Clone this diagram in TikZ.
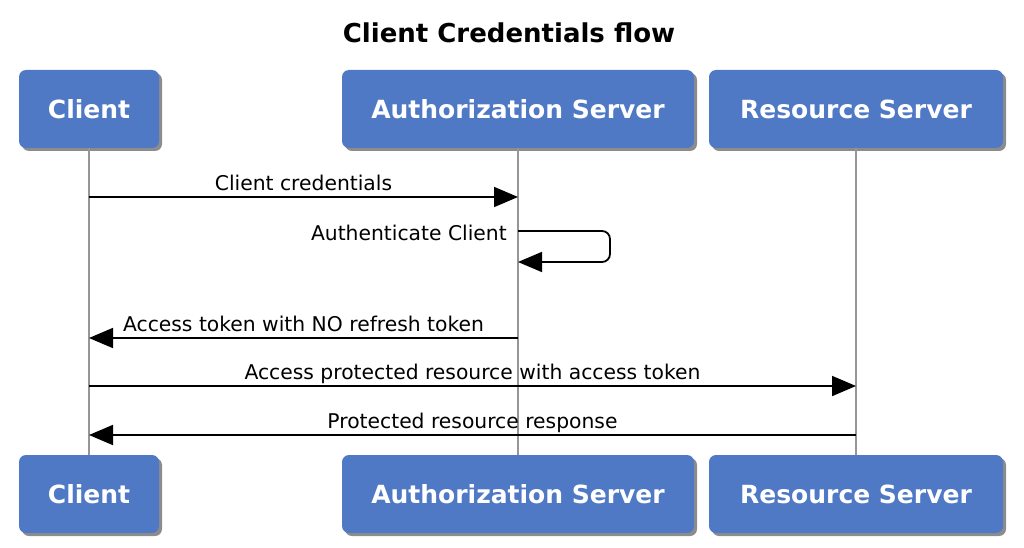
\documentclass[tikz,border=0pt]{standalone}
\usepackage{fontspec}
\setmainfont{DejaVu Sans}
\usetikzlibrary{arrows.meta, positioning, shadows}
\definecolor{ActorBlue}{RGB}{79,121,196}
\definecolor{LifeGrey}{RGB}{150,150,150}

\begin{document}
\begin{tikzpicture}[
    x=1pt,
    y=1pt,
    actor/.style={fill=ActorBlue, rounded corners=7pt, text=white,
      font=\fontsize{25}{28}\selectfont\bfseries, minimum height=78pt,
      drop shadow={shadow xshift=3pt, shadow yshift=-3pt, fill=black, opacity=0.45}},
    life/.style={LifeGrey, line width=2.4pt},
    msg/.style={black, line width=1.8pt, -{Triangle[length=24pt, width=20pt]}},
    lbl/.style={font=\fontsize{20.3}{23}\selectfont, inner sep=0pt}
]
\useasboundingbox (0,0) rectangle (1024,-548);

\node[font=\fontsize{26}{30}\selectfont\bfseries] (title) at (509,-33) {Client Credentials flow};

% Participants, top and bottom
\foreach \name/\x/\w/\lab in {cli/89/140/Client, auth/518/352/Authorization Server, res/856/294/Resource Server}{
  \node[actor, minimum width=\w pt] (\name Top) at (\x,-109) {\lab};
  \node[actor, minimum width=\w pt] (\name Bot) at (\x,-494) {\lab};
}

% Lifelines
\foreach \name in {cli,auth,res}{
  \draw[life] (\name Top) -- (\name Bot);
}

% Message anchors on the lifelines
\coordinate (cli1) at (cliTop |- 0,-197);
\coordinate (auth1) at (authTop |- 0,-197);
\coordinate (auth2) at (authTop |- 0,-231);
\coordinate (self1) at (610,-231);
\coordinate (self2) at (610,-262);
\coordinate (auth3) at (authTop |- 0,-262);
\coordinate (auth4) at (authTop |- 0,-338);
\coordinate (cli4) at (cliTop |- 0,-338);
\coordinate (cli5) at (cliTop |- 0,-386);
\coordinate (res5) at (resTop |- 0,-386);
\coordinate (res6) at (resTop |- 0,-435);
\coordinate (cli6) at (cliTop |- 0,-435);

% Messages
\draw[msg] (cli1) -- node[lbl, anchor=base, yshift=7pt] (m1) {Client credentials} (auth1);
\draw[msg, rounded corners=8pt] (auth2) -- (self1) -- (self2) -- (auth3);
\node[lbl, anchor=base east, xshift=-11pt, yshift=-9pt] (m2) at (auth2) {Authenticate Client};
\draw[msg] (auth4) -- node[lbl, anchor=base, yshift=7pt] (m3) {Access token with NO refresh token} (cli4);
\draw[msg] (cli5) -- node[lbl, anchor=base, yshift=7pt] (m4) {Access protected resource with access token} (res5);
\draw[msg] (res6) -- node[lbl, anchor=base, yshift=7pt] (m5) {Protected resource response} (cli6);

\end{tikzpicture}
\end{document}
